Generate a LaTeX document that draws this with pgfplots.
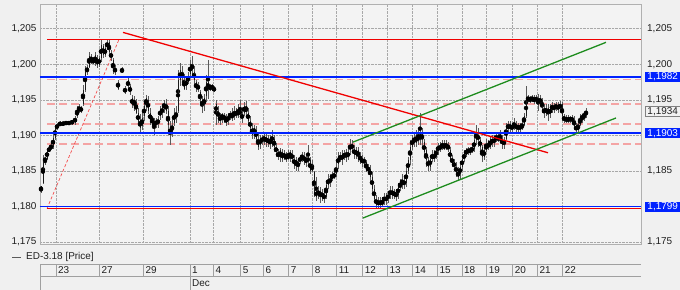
\documentclass[border=0pt]{standalone}
\usepackage{fontspec}
\setmainfont{Liberation Sans}
\usepackage{pgfplots}
\usepackage{pgfplotstable}
\pgfplotsset{compat=1.18}
\definecolor{bgc}{HTML}{F0F0F0}
\definecolor{plotbg}{HTML}{F3F3F3}
\definecolor{gridc}{HTML}{A8A8A8}
\definecolor{axc}{HTML}{B0B0B0}
\definecolor{boxc}{HTML}{A0A0A0}
\definecolor{lblue}{HTML}{0022FF}
\definecolor{lred}{HTML}{F00000}
\definecolor{lpink}{HTML}{F4A4A4}
\definecolor{lgreen}{HTML}{1E8C1E}
\definecolor{wickc}{HTML}{5A5A5A}
\definecolor{bodyc}{HTML}{1A1A1A}
\definecolor{txt}{HTML}{202020}

\pgfplotstableread{
x o h l c
41 1.1822 1.1829 1.1819 1.1828
43 1.1833 1.1872 1.1832 1.1865
45 1.1865 1.1870 1.1858 1.1867
47 1.1867 1.1881 1.1865 1.1879
49 1.1879 1.1884 1.1876 1.1881
51 1.1881 1.1889 1.1879 1.1886
53 1.1884 1.1900 1.1881 1.1897
55 1.1897 1.1914 1.1894 1.1910
57 1.1910 1.1918 1.1907 1.1915
60 1.1915 1.1920 1.1913 1.1917
63 1.1918 1.1920 1.1913 1.1915
66 1.1917 1.1921 1.1914 1.1918
69 1.1918 1.1920 1.1915 1.1917
72 1.1917 1.1922 1.1915 1.1920
75 1.1918 1.1928 1.1915 1.1925
77 1.1927 1.1942 1.1924 1.1935
79 1.1935 1.1944 1.1932 1.1938
81 1.1938 1.1941 1.1932 1.1935
83 1.1944 1.1971 1.1941 1.1964
85 1.1964 1.1998 1.1961 1.1992
87 1.1989 1.1999 1.1985 1.1996
89 1.1996 1.2017 1.1995 1.2012
91 1.2010 1.2015 1.2000 1.2006
93 1.2006 1.2009 1.2000 1.2003
95 1.2003 1.2017 1.1998 1.2013
97 1.2009 1.2013 1.1995 1.1999
99 1.1999 1.2012 1.1996 1.2009
101 1.2009 1.2034 1.2003 1.2027
103 1.2026 1.2029 1.2009 1.2013
105 1.2013 1.2026 1.2010 1.2023
107 1.2023 1.2036 1.2020 1.2032
109 1.2032 1.2034 1.2012 1.2017
111 1.2016 1.2020 1.2005 1.2009
113 1.2006 1.2009 1.1986 1.1992
115 1.1995 1.1999 1.1985 1.1989
118 1.1975 1.1978 1.1964 1.1966
122 1.1989 1.1996 1.1988 1.1993
125 1.1966 1.1969 1.1958 1.1961
128 1.1978 1.1981 1.1964 1.1969
130 1.1969 1.1972 1.1957 1.1961
132 1.1952 1.1957 1.1938 1.1944
134 1.1944 1.1955 1.1935 1.1950
136 1.1947 1.1952 1.1930 1.1932
138 1.1932 1.1938 1.1913 1.1918
140 1.1921 1.1930 1.1904 1.1910
142 1.1913 1.1932 1.1907 1.1924
144 1.1927 1.1947 1.1921 1.1942
146 1.1944 1.1957 1.1935 1.1952
148 1.1950 1.1955 1.1930 1.1935
150 1.1932 1.1938 1.1915 1.1921
152 1.1921 1.1927 1.1913 1.1924
154 1.1918 1.1924 1.1900 1.1913
156 1.1915 1.1925 1.1911 1.1920
158 1.1921 1.1927 1.1911 1.1918
160 1.1927 1.1941 1.1922 1.1935
162 1.1932 1.1944 1.1925 1.1938
164 1.1941 1.1950 1.1932 1.1944
166 1.1944 1.1952 1.1930 1.1935
168 1.1935 1.1941 1.1904 1.1914
170 1.1913 1.1921 1.1886 1.1900
172 1.1904 1.1924 1.1898 1.1915
174 1.1918 1.1938 1.1913 1.1932
176 1.1932 1.1941 1.1918 1.1924
178 1.1935 1.1992 1.1932 1.1978
180 1.1978 1.2002 1.1969 1.1992
182 1.1989 1.1998 1.1975 1.1981
184 1.1978 1.1986 1.1964 1.1966
186 1.1969 1.1983 1.1964 1.1978
188 1.1975 1.1989 1.1972 1.1983
190 1.1986 1.2006 1.1981 1.2000
192 1.2000 1.2012 1.1983 1.1992
194 1.1989 1.1998 1.1972 1.1978
196 1.1975 1.1978 1.1961 1.1966
198 1.1966 1.1975 1.1961 1.1969
200 1.1961 1.1964 1.1944 1.1950
202 1.1950 1.1955 1.1932 1.1941
204 1.1944 1.1958 1.1935 1.1952
206 1.1955 1.1985 1.1947 1.1975
208 1.1975 1.2006 1.1952 1.1966
210 1.1969 1.1972 1.1962 1.1966
212 1.1966 1.1972 1.1964 1.1969
214 1.1966 1.1969 1.1961 1.1964
216 1.1944 1.1950 1.1915 1.1932
218 1.1935 1.1942 1.1918 1.1924
220 1.1927 1.1932 1.1915 1.1921
222 1.1924 1.1932 1.1918 1.1930
224 1.1927 1.1932 1.1918 1.1924
226 1.1924 1.1930 1.1913 1.1918
228 1.1921 1.1932 1.1915 1.1927
230 1.1927 1.1935 1.1921 1.1930
232 1.1930 1.1938 1.1920 1.1924
234 1.1927 1.1941 1.1921 1.1932
236 1.1932 1.1938 1.1924 1.1930
238 1.1930 1.1944 1.1924 1.1932
240 1.1935 1.1950 1.1924 1.1930
242 1.1930 1.1935 1.1918 1.1924
244 1.1932 1.1947 1.1927 1.1941
246 1.1941 1.1948 1.1924 1.1935
248 1.1932 1.1938 1.1915 1.1921
250 1.1921 1.1927 1.1904 1.1910
252 1.1910 1.1918 1.1895 1.1901
254 1.1904 1.1915 1.1895 1.1910
256 1.1907 1.1913 1.1890 1.1895
258 1.1895 1.1904 1.1879 1.1884
260 1.1887 1.1901 1.1881 1.1895
262 1.1895 1.1901 1.1886 1.1893
264 1.1893 1.1904 1.1887 1.1898
266 1.1898 1.1903 1.1884 1.1890
268 1.1890 1.1901 1.1884 1.1895
270 1.1895 1.1900 1.1881 1.1889
272 1.1893 1.1907 1.1884 1.1898
274 1.1895 1.1901 1.1876 1.1884
276 1.1884 1.1890 1.1870 1.1876
278 1.1876 1.1881 1.1865 1.1870
280 1.1870 1.1883 1.1862 1.1879
282 1.1876 1.1881 1.1862 1.1867
284 1.1870 1.1879 1.1865 1.1873
286 1.1873 1.1876 1.1862 1.1867
288 1.1867 1.1879 1.1865 1.1873
290 1.1870 1.1879 1.1862 1.1876
292 1.1873 1.1879 1.1862 1.1867
294 1.1867 1.1873 1.1853 1.1859
296 1.1859 1.1870 1.1850 1.1865
298 1.1862 1.1867 1.1850 1.1856
300 1.1865 1.1873 1.1859 1.1867
302 1.1867 1.1876 1.1862 1.1873
304 1.1870 1.1876 1.1859 1.1865
306 1.1867 1.1873 1.1856 1.1862
308 1.1867 1.1886 1.1860 1.1865
310 1.1865 1.1870 1.1845 1.1850
312 1.1850 1.1865 1.1848 1.1858
314 1.1848 1.1850 1.1813 1.1819
316 1.1822 1.1842 1.1808 1.1813
318 1.1816 1.1828 1.1811 1.1822
320 1.1822 1.1828 1.1805 1.1813
322 1.1813 1.1825 1.1808 1.1819
324 1.1816 1.1822 1.1805 1.1811
326 1.1813 1.1836 1.1811 1.1830
328 1.1830 1.1845 1.1825 1.1839
330 1.1839 1.1845 1.1828 1.1833
332 1.1839 1.1848 1.1836 1.1845
334 1.1845 1.1848 1.1839 1.1842
336 1.1845 1.1862 1.1842 1.1856
338 1.1859 1.1876 1.1853 1.1870
340 1.1870 1.1876 1.1862 1.1867
342 1.1865 1.1879 1.1859 1.1873
344 1.1873 1.1879 1.1865 1.1870
346 1.1870 1.1881 1.1862 1.1876
348 1.1876 1.1881 1.1865 1.1870
350 1.1879 1.1895 1.1873 1.1887
352 1.1887 1.1893 1.1876 1.1881
354 1.1881 1.1887 1.1867 1.1873
356 1.1873 1.1884 1.1867 1.1879
358 1.1879 1.1884 1.1862 1.1870
360 1.1870 1.1876 1.1860 1.1867
362 1.1867 1.1873 1.1856 1.1862
364 1.1862 1.1870 1.1858 1.1865
366 1.1862 1.1865 1.1848 1.1853
368 1.1856 1.1860 1.1845 1.1850
370 1.1853 1.1858 1.1836 1.1842
372 1.1842 1.1848 1.1819 1.1825
374 1.1825 1.1830 1.1805 1.1811
376 1.1811 1.1816 1.1798 1.1802
378 1.1802 1.1813 1.1798 1.1808
380 1.1808 1.1813 1.1798 1.1802
382 1.1802 1.1813 1.1799 1.1808
384 1.1808 1.1819 1.1802 1.1813
386 1.1813 1.1819 1.1802 1.1808
388 1.1811 1.1822 1.1805 1.1816
390 1.1816 1.1828 1.1811 1.1822
392 1.1822 1.1828 1.1811 1.1816
394 1.1816 1.1825 1.1811 1.1819
396 1.1819 1.1825 1.1808 1.1813
398 1.1816 1.1833 1.1811 1.1828
400 1.1828 1.1839 1.1822 1.1830
402 1.1830 1.1845 1.1825 1.1836
404 1.1836 1.1842 1.1825 1.1830
406 1.1833 1.1856 1.1828 1.1850
408 1.1850 1.1870 1.1845 1.1865
410 1.1865 1.1893 1.1859 1.1884
412 1.1884 1.1901 1.1879 1.1895
414 1.1895 1.1904 1.1884 1.1890
416 1.1890 1.1907 1.1884 1.1898
418 1.1898 1.1910 1.1887 1.1893
420 1.1893 1.1932 1.1887 1.1904
422 1.1904 1.1910 1.1884 1.1893
424 1.1890 1.1895 1.1870 1.1876
426 1.1879 1.1884 1.1856 1.1865
428 1.1865 1.1870 1.1850 1.1856
430 1.1856 1.1873 1.1850 1.1867
432 1.1867 1.1879 1.1862 1.1873
434 1.1873 1.1879 1.1862 1.1867
436 1.1870 1.1884 1.1867 1.1879
438 1.1879 1.1890 1.1873 1.1884
440 1.1884 1.1890 1.1876 1.1881
442 1.1884 1.1893 1.1879 1.1887
444 1.1887 1.1893 1.1879 1.1881
446 1.1884 1.1893 1.1879 1.1887
448 1.1887 1.1890 1.1876 1.1881
450 1.1879 1.1884 1.1862 1.1867
452 1.1867 1.1873 1.1856 1.1862
454 1.1862 1.1867 1.1850 1.1856
456 1.1856 1.1862 1.1842 1.1848
458 1.1848 1.1856 1.1836 1.1842
460 1.1845 1.1862 1.1839 1.1856
462 1.1856 1.1873 1.1850 1.1867
464 1.1867 1.1879 1.1862 1.1873
466 1.1873 1.1883 1.1870 1.1879
468 1.1876 1.1884 1.1872 1.1881
470 1.1881 1.1884 1.1872 1.1877
472 1.1879 1.1886 1.1875 1.1881
474 1.1881 1.1898 1.1876 1.1893
476 1.1893 1.1914 1.1886 1.1904
478 1.1901 1.1910 1.1884 1.1893
480 1.1893 1.1898 1.1879 1.1884
482 1.1884 1.1887 1.1862 1.1870
484 1.1870 1.1884 1.1865 1.1879
486 1.1879 1.1895 1.1876 1.1887
488 1.1887 1.1893 1.1879 1.1884
490 1.1884 1.1898 1.1881 1.1893
492 1.1893 1.1900 1.1884 1.1890
494 1.1890 1.1901 1.1884 1.1895
496 1.1895 1.1904 1.1890 1.1898
498 1.1898 1.1904 1.1890 1.1893
500 1.1893 1.1907 1.1890 1.1898
502 1.1895 1.1901 1.1881 1.1887
504 1.1887 1.1898 1.1881 1.1893
506 1.1895 1.1918 1.1893 1.1910
508 1.1910 1.1921 1.1904 1.1915
510 1.1915 1.1921 1.1904 1.1910
512 1.1910 1.1918 1.1904 1.1913
514 1.1913 1.1924 1.1907 1.1915
516 1.1915 1.1921 1.1904 1.1910
518 1.1910 1.1918 1.1904 1.1913
520 1.1913 1.1918 1.1904 1.1910
522 1.1910 1.1921 1.1907 1.1915
524 1.1915 1.1932 1.1913 1.1927
526 1.1927 1.1969 1.1924 1.1950
528 1.1950 1.1957 1.1947 1.1952
530 1.1952 1.1955 1.1945 1.1950
532 1.1950 1.1957 1.1947 1.1952
534 1.1952 1.1957 1.1944 1.1948
536 1.1950 1.1957 1.1945 1.1952
538 1.1952 1.1958 1.1935 1.1944
540 1.1947 1.1957 1.1941 1.1952
542 1.1950 1.1952 1.1932 1.1938
544 1.1938 1.1944 1.1924 1.1932
546 1.1932 1.1944 1.1927 1.1938
548 1.1938 1.1944 1.1921 1.1930
550 1.1930 1.1944 1.1924 1.1938
552 1.1938 1.1947 1.1932 1.1941
554 1.1941 1.1945 1.1932 1.1938
556 1.1938 1.1947 1.1935 1.1942
558 1.1941 1.1947 1.1932 1.1938
560 1.1938 1.1948 1.1935 1.1944
562 1.1944 1.1947 1.1921 1.1927
564 1.1927 1.1930 1.1917 1.1921
566 1.1921 1.1928 1.1917 1.1924
568 1.1924 1.1928 1.1917 1.1920
570 1.1921 1.1928 1.1918 1.1924
572 1.1924 1.1928 1.1917 1.1921
574 1.1921 1.1927 1.1910 1.1913
576 1.1913 1.1918 1.1903 1.1907
578 1.1907 1.1921 1.1904 1.1915
580 1.1915 1.1930 1.1913 1.1924
582 1.1924 1.1930 1.1918 1.1927
584 1.1927 1.1932 1.1921 1.1930
586 1.1930 1.1938 1.1924 1.1934
}\candles

\begin{document}
\begin{tikzpicture}[every node/.style={font=\fontsize{10}{12}\selectfont, text=txt}]
\useasboundingbox (0,0) rectangle (680bp,290bp);
\fill[bgc] (0,0) rectangle (680bp,290bp);
\begin{axis}[
  at={(40bp,46bp)}, anchor=south west,
  scale only axis, width=601bp, height=240bp,
  xmin=40, xmax=641, ymin=1.1747, ymax=1.2085,
  clip mode=individual,
  axis background/.style={fill=plotbg},
  axis line style={axc, line width=0.8bp},
  xtick={56,99.3,143.3,190,213.3,240.7,263.3,288.7,312.7,336.7,362.7,387.3,412.7,437.3,462,486.7,512.7,537.3,562.7},
  xticklabels={},
  ytick={1.175,1.18,1.185,1.19,1.195,1.2,1.205},
  yticklabel pos=left,
  grid=major,
  grid style={densely dotted, gridc, line width=0.7bp},
  major tick length=0pt,
  tick label style={font=\fontsize{10}{12}\selectfont, text=txt},
  /pgf/number format/assume math mode=true,
  yticklabel style={/pgf/number format/.cd, fixed, fixed zerofill, precision=3, use comma},
]
% Fibonacci levels
\addplot[draw=lpink, line width=1.4bp, dash pattern=on 8bp off 4bp] coordinates {(47,1.1979) (641,1.1979)};
\addplot[draw=lpink, line width=1.4bp, dash pattern=on 8bp off 4bp] coordinates {(47,1.1944) (641,1.1944)};
\addplot[draw=lpink, line width=1.4bp, dash pattern=on 8bp off 4bp] coordinates {(47,1.1916) (641,1.1916)};
\addplot[draw=lpink, line width=1.4bp, dash pattern=on 8bp off 4bp] coordinates {(47,1.1888) (641,1.1888)};
\addplot[draw=lred!70, line width=0.7bp, dash pattern=on 3bp off 2bp] coordinates {(47,1.1797) (119,1.2035)};
% candles
\addplot[only marks, mark=none, error bars/.cd, y dir=both, y explicit, error mark=none,
  error bar style={line width=0.5bp, draw=wickc}]
  table[x=x, y expr={(\thisrow{h}+\thisrow{l})/2}, y error expr={(\thisrow{h}-\thisrow{l})/2}] {\candles};
\addplot[only marks, mark=none, error bars/.cd, y dir=both, y explicit, error mark=none,
  error bar style={line width=1.0bp, draw=bodyc}]
  table[x=x, y expr={(\thisrow{o}+\thisrow{c})/2}, y error expr={abs(\thisrow{o}-\thisrow{c})/2}] {\candles};
% horizontal levels
\addplot[draw=lred, solid, line width=1.3bp] coordinates {(47,1.2035) (641,1.2035)};
\addplot[draw=lred, solid, line width=1.3bp] coordinates {(47,1.1797) (641,1.1797)};
\addplot[draw=lblue, solid, line width=1.5bp] coordinates {(40,1.1982) (641,1.1982)};
\addplot[draw=lblue, solid, line width=1.5bp] coordinates {(40,1.1903) (641,1.1903)};
\addplot[draw=lblue, solid, line width=1.5bp] coordinates {(40,1.1800) (641,1.1800)};
% trend lines
\addplot[draw=lred, line width=1.3bp] coordinates {(123,1.2045) (548,1.18755)};
\addplot[draw=lgreen, line width=1.3bp] coordinates {(353,1.18905) (606,1.2031)};
\addplot[draw=lgreen, line width=1.3bp] coordinates {(363,1.17836) (616,1.19245)};
% right tick labels
\foreach \v/\t in {1.205/{1,205},1.2/{1,200},1.195/{1,195},1.185/{1,185},1.175/{1,175}}{
  \edef\temp{\noexpand\node[anchor=west, inner sep=0pt, xshift=6bp] at (axis cs:641,\v) {\t};}\temp
}
\node[anchor=west, xshift=4bp, fill=lblue, text=white, inner sep=1pt, minimum width=35bp, minimum height=10.5bp] at (axis cs:641,1.1982) {1,1982};
\node[anchor=west, xshift=4bp, fill=white!90!gray, draw=gray, text=txt, inner sep=1pt, minimum width=35bp, minimum height=10.5bp] at (axis cs:641,1.1934) {1,1934};
\node[anchor=west, xshift=4bp, fill=lblue, text=white, inner sep=1pt, minimum width=35bp, minimum height=10.5bp] at (axis cs:641,1.1903) {1,1903};
\node[anchor=west, xshift=4bp, fill=lblue, text=white, inner sep=1pt, minimum width=35bp, minimum height=10.5bp] at (axis cs:641,1.1799) {1,1799};
\end{axis}
% legend
\draw[wickc, line width=0.8bp] (12bp,33bp) -- (21bp,33bp);
\node[anchor=west, inner sep=0pt] at (26bp,33bp) {ED-3.18 [Price]};
% date box
\draw[boxc, line width=0.8bp] (40bp,26bp) -- (641bp,26bp);
\draw[boxc, line width=0.8bp] (40bp,13.3bp) -- (641bp,13.3bp);
\draw[boxc, line width=0.8bp] (40bp,0bp) -- (40bp,26bp);
\draw[boxc, line width=0.8bp] (190bp,0bp) -- (190bp,26bp);
\foreach \xx/\lab in {56/23,99.3/27,143.3/29,190/1,213.3/4,240.7/5,263.3/6,288.7/7,312.7/8,336.7/11,362.7/12,387.3/13,412.7/14,437.3/15,462/18,486.7/19,512.7/20,537.3/21,562.7/22}{
  \draw[boxc, line width=0.8bp] (\xx bp,13.3bp) -- (\xx bp,26bp);
  \node[anchor=west, inner sep=0pt] at (\xx bp+2bp,19.6bp) {\lab};
}
\node[anchor=west, inner sep=0pt] at (192bp,6.5bp) {Dec};
\end{tikzpicture}
\end{document}
